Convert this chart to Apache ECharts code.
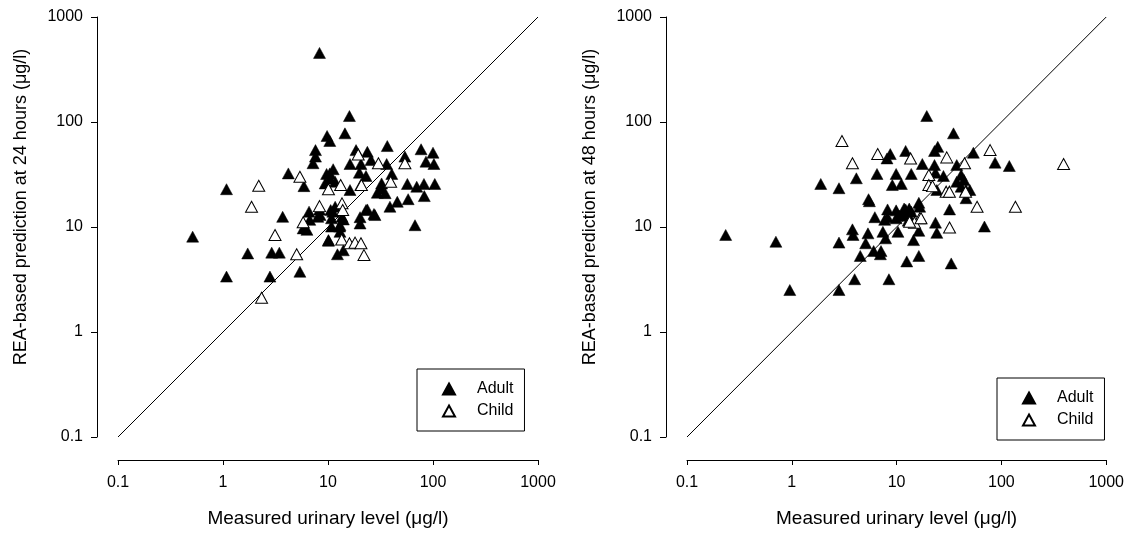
<!DOCTYPE html>
<html>
<head>
<meta charset="utf-8">
<script src="https://cdn.jsdelivr.net/npm/echarts@6/dist/echarts.min.js"></script>
<style>
html,body{margin:0;padding:0;background:#fff;}
#chart{width:1127px;height:533px;}
</style>
</head>
<body>
<div id="chart"></div>
<script>
// ---- data ----
const tickLabels = ['0.1', '1', '10', '100', '1000'];
const xTitle = 'Measured urinary level (\u03bcg/l)';
const yTitle24 = 'REA-based prediction at 24 hours (\u03bcg/l)';
const yTitle48 = 'REA-based prediction at 48 hours (\u03bcg/l)';
const identityLine = [[0.1, 0.1], [1000, 1000]];

const adult24 = [
  [8.3,455],[16,114],[14.5,78],[9.8,73.6],[10.4,66],[7.6,54],[7.6,46.8],[7.2,40.5],
  [36.7,59],[18.5,54],[23.7,52],[25.7,43.4],[36.2,39.8],[54,46.8],[77,55],[100,51],
  [85.7,41.9],[102,39.8],[16.2,39.8],[20.6,39.8],[19.9,32.9],[23,30.6],[40.5,32],
  [32.4,26],[57,25.7],[70,24.2],[82,25.7],[104,25.7],[82.6,19.7],[58,18.4],[45.7,17.4],
  [38.9,15.6],[31.8,23.3],[29.5,21.2],[35,21],[10.4,32.4],[11.2,35.5],[9.4,26],[11.7,27],
  [10.4,29],[16.2,22.5],[20.5,25.1],[4.19,32.4],[5.9,24.5],[9.7,32],[1.08,22.9],[3.7,12.5],
  [6.6,14],[8.0,12.5],[6.7,11.7],[5.8,9.7],[6.3,9.4],[10.1,7.5],[0.514,8.09],[1.72,5.6],
  [2.91,5.7],[3.44,5.7],[1.08,3.37],[2.8,3.37],[5.4,3.75],[10.6,14.5],[11.7,15.6],[8.4,13],
  [14,11.8],[10.8,12.1],[20.2,12.4],[23,14.5],[27.4,13.3],[20.2,10.8],[67.4,10.4],[13,10.4],
  [10.8,10.1],[11.1,14],[13.6,12.5],[23.7,14.7],[28,13],[12.9,10.1],[13,9.0],[10.1,7.4],
  [14,6.0],[12.3,5.5],[8.3,14.7]
];
const child24 = [
  [2.19,24.7],[1.87,15.6],[3.13,8.4],[5.03,5.5],[2.33,2.12],[5.4,30.1],[8.3,15.8],[5.8,11.1],
  [10.1,22.9],[13.2,25.1],[20.8,25.1],[19.4,49],[30.2,40.5],[54,40.5],[39.5,27],[13.6,16.8],
  [13.8,14.5],[13.5,7.6],[16,7.0],[18.1,7.1],[20.6,7.0],[22,5.4]
];
const adult48 = [
  [0.234,8.4],[0.705,7.24],[0.957,2.51],[2.82,2.51],[2.82,7.1],[3.79,9.5],[3.84,8.4],[5.33,8.7],
  [5.07,7.0],[4.5,5.3],[3.98,3.18],[8.45,3.18],[1.89,25.7],[2.82,23.4],[4.13,29.1],[5.4,18.4],
  [19.4,114],[34.9,78],[8.7,49.5],[8.1,45],[12.2,53],[24.7,58],[23,53],[54,51],[17.6,39.8],
  [23,38.9],[37.5,38.9],[87,41],[119,38.1],[6.5,32],[9.9,32],[13.8,32],[9.1,25.1],[11.1,25.7],
  [23.5,32.9],[28,30.6],[41.3,31.3],[37.5,27],[41.3,24.2],[46,22.5],[24.2,22.5],[46,18.8],
  [5.5,17.6],[32,14.7],[16.3,17],[8.2,14.7],[9.9,14.4],[11.8,15],[13.2,15],[16.6,15.6],
  [6.2,12.4],[8.2,12.4],[10.7,12.8],[12.9,13],[23.5,11],[68.9,10.1],[7.4,9.0],[10.3,9.0],
  [16.3,9.2],[24.2,8.8],[7.85,7.8],[14.5,7.5],[6.04,5.9],[7.1,5.9],[7.0,5.5],[16.3,5.3],
  [12.5,4.7],[33.2,4.5],[7.7,11.7],[9.9,12.1],[12.9,11.5],[11.4,13],[13.8,14],[12.2,14.7],
  [44,28],[50,22.5]
];
const child48 = [
  [3.01,65.9],[3.79,40.5],[6.6,49.5],[13.6,45],[30.1,46],[78,54],[44.5,40.5],[392,39.8],
  [20.3,31.3],[20.3,25.1],[22,24.5],[29.7,21.7],[31.9,21.7],[45.5,21.7],[58.6,15.6],[136,15.6],
  [32,9.9],[16.6,12.1],[14.8,11],[17.1,12.1],[13.3,11.2]
];

// ---- chart ----
const FONT = '"Liberation Sans", Arial, sans-serif';
function labelFmt(v) {
  const i = Math.round(Math.log10(v)) + 1;
  return tickLabels[i] !== undefined ? tickLabels[i] : '';
}
function xAx(gi) {
  return {
    type: 'log', logBase: 10, gridIndex: gi, min: 0.1, max: 1000,
    offset: 23,
    name: xTitle, nameLocation: 'middle', nameGap: 49,
    nameTextStyle: {color: '#000', fontSize: 19, fontFamily: FONT},
    axisLine: {show: true, onZero: false, lineStyle: {color: '#000', width: 1}},
    axisTick: {show: true, length: 5, lineStyle: {color: '#000'}},
    minorTick: {show: false},
    splitLine: {show: false},
    axisLabel: {color: '#000', fontSize: 16, fontFamily: FONT, margin: 15, formatter: labelFmt}
  };
}
function yAx(gi, title) {
  return {
    type: 'log', logBase: 10, gridIndex: gi, min: 0.1, max: 1000,
    offset: 21,
    name: title, nameLocation: 'middle', nameGap: 67, nameRotate: 90,
    nameTextStyle: {color: '#000', fontSize: 18, fontFamily: FONT, padding: [0, 0, 0, 40]},
    axisLine: {show: true, onZero: false, lineStyle: {color: '#000', width: 1}},
    axisTick: {show: true, length: 6, lineStyle: {color: '#000'}},
    splitLine: {show: false},
    axisLabel: {color: '#000', fontSize: 16, fontFamily: FONT, margin: 14, formatter: labelFmt}
  };
}
const triSize = [12, 11];
function adultSeries(gi, data) {
  return {
    name: 'Adult', type: 'scatter', xAxisIndex: gi, yAxisIndex: gi,
    symbol: 'triangle', symbolSize: triSize, data: data,
    itemStyle: {color: '#000', borderColor: '#000', borderWidth: 0.5, opacity: 1},
    emphasis: {disabled: true}, z: 3
  };
}
function childSeries(gi, data) {
  return {
    name: 'Child', type: 'scatter', xAxisIndex: gi, yAxisIndex: gi,
    symbol: 'triangle', symbolSize: triSize, data: data,
    itemStyle: {color: '#fff', borderColor: '#000', borderWidth: 1, opacity: 1},
    emphasis: {disabled: true}, z: 4
  };
}
function lineSeries(gi) {
  return {
    name: 'identity', type: 'line', xAxisIndex: gi, yAxisIndex: gi,
    data: identityLine, showSymbol: false, symbol: 'none',
    lineStyle: {color: '#000', width: 1}, silent: true, z: 2
  };
}
function legendAt(left, top) {
  return {
    data: ['Adult', 'Child'], orient: 'vertical', left: left, top: top,
    itemWidth: 12, itemHeight: 11, itemGap: 6,
    padding: [12, 11, 12, 25],
    borderColor: '#000', borderWidth: 1, backgroundColor: '#fff',
    selectedMode: false,
    textStyle: {color: '#000', fontSize: 16, fontFamily: FONT, padding: [0, 0, 0, 17]}
  };
}

const chart = echarts.init(document.getElementById('chart'), null, {renderer: 'canvas'});
chart.setOption({
  animation: false,
  backgroundColor: '#fff',
  grid: [
    {left: 118, top: 17, width: 420, height: 420},
    {left: 687, top: 17, width: 420, height: 420}
  ],
  xAxis: [xAx(0), xAx(1)],
  yAxis: [yAx(0, yTitle24), yAx(1, yTitle48)],
  legend: [legendAt(417, 369), legendAt(997, 378)],
  series: [
    lineSeries(0), adultSeries(0, adult24), childSeries(0, child24),
    lineSeries(1), adultSeries(1, adult48), childSeries(1, child48)
  ]
});
</script>
</body>
</html>
